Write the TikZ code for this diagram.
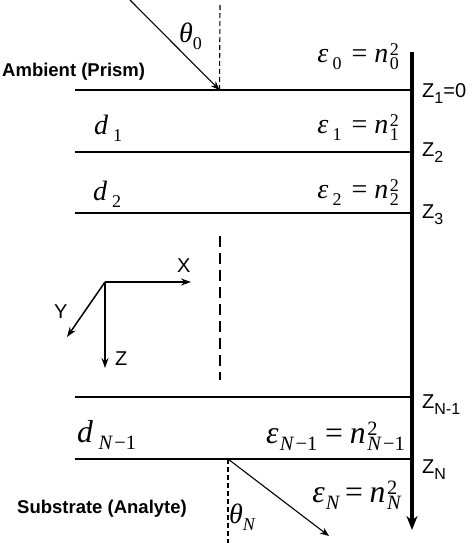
\documentclass[tikz,border=0pt]{standalone}
\usepackage{fontspec}
\setmainfont{Liberation Sans}
\newfontfamily\tms{Liberation Serif}
\usetikzlibrary{arrows.meta}
\newcommand{\zsb}[1]{\raisebox{-6pt}{\fontsize{16}{16}\selectfont #1}}
\newcommand{\lsb}[1]{\raisebox{-7pt}{\fontsize{18}{18}\selectfont #1}}
\newcommand{\lsp}[1]{\raisebox{7pt}{\fontsize{18}{18}\selectfont #1}}
\newcommand{\stk}[2]{\hspace{1.5pt}\rlap{\lsp{#1}}\lsb{#2}}
\newcommand{\ep}{{\itshape ε}}
\newcommand{\Nm}{{\itshape N}\hspace{2pt}−1}
\tikzset{
  layer/.style={line width=1.5pt},
  ray/.style={line width=1.1pt,-{Stealth[length=9pt,width=7pt]}},
  thinDash/.style={line width=1.1pt,dash pattern=on 5pt off 3pt},
  midDash/.style={line width=2.8pt,dash pattern=on 11pt off 6pt},
  zaxis/.style={line width=3.2pt,-{Stealth[length=14pt,width=11pt]}},
  cframe/.style={line width=1.5pt,-{Stealth[length=10pt,width=7pt]}},
  mlab/.style={inner sep=0pt,font=\tms\fontsize{28}{30}\selectfont},
  zlab/.style={inner sep=0pt,anchor=base west,font=\fontsize{20}{22}\selectfont},
  blab/.style={inner sep=0pt,anchor=base west,font=\bfseries\fontsize{18.5}{20}\selectfont},
}
\begin{document}
\begin{tikzpicture}[x=1pt,y=-1pt]
\useasboundingbox (0,0) rectangle (474,543);
% layer lines
\foreach \n/\y in {a/90,b/152,c/213,d/397,e/459}{
  \coordinate (L\n) at (75,\y);
  \coordinate (R\n) at (412,\y);
  \draw[layer] (L\n) -- (R\n);
}
% vertical z axis
\coordinate (ztop) at (412,52);
\coordinate (zbot) at (412,530);
\draw[zaxis] (ztop) -- (zbot);
% incident ray
\coordinate (inS) at (130,0);
\coordinate (inE) at (219.5,90);
\coordinate (nTop) at (220,5);
\draw[thinDash] (nTop) -- (inE);
\draw[ray] (inS) -- (inE);
% refracted ray
\coordinate (outS) at (228,459);
\coordinate (outE) at (329,536);
\coordinate (nBot) at (228,543);
\draw[thinDash] (outS) -- (nBot);
\draw[ray] (outS) -- (outE);
% middle dashed
\coordinate (mdT) at (220,236);
\coordinate (mdB) at (220,380);
\draw[midDash] (mdT) -- (mdB);
% coordinate frame
\coordinate (O) at (105,282);
\coordinate (OX) at (191,282);
\coordinate (OY) at (67,337);
\coordinate (OZ) at (105,368);
\draw[cframe] (O) -- (OX);
\draw[cframe] (O) -- (OY);
\draw[cframe] (O) -- (OZ);
\node[zlab] (xl) at (177,272) {X};
\node[zlab] (yl) at (54,318) {Y};
\node[zlab] (zl) at (115,365) {Z};
% angle labels
\node[mlab,anchor=base west] (t0) at (179,43) {{\itshape θ}\lsb{0}};
\node[mlab,anchor=base west] (tN) at (229,523) {{\itshape θ}\lsb{\itshape N}};
% epsilon labels
\node[mlab,anchor=base east] (e0) at (399,63) {\ep\hspace{4pt}\lsb{0}\hspace{10pt}=\hspace{7pt}{\itshape n}\stk{2}{0}};
\node[mlab,anchor=base east] (e1) at (399,133) {\ep\hspace{4pt}\lsb{1}\hspace{10pt}=\hspace{7pt}{\itshape n}\stk{2}{1}};
\node[mlab,anchor=base east] (e2) at (399,198) {\ep\hspace{4pt}\lsb{2}\hspace{10pt}=\hspace{7pt}{\itshape n}\stk{2}{2}};
\node[mlab,anchor=base east] (eN1) at (405,443) {\scalebox{1.13}{\ep\hspace{1pt}\lsb{\Nm}\hspace{7pt}=\hspace{6pt}{\itshape n}\stk{2}{\Nm}}};
\node[mlab,anchor=base east] (eN) at (401,502) {\scalebox{1.13}{\ep\hspace{1pt}\lsb{\itshape N}\hspace{5pt}=\hspace{6pt}{\itshape n}\stk{2}{\itshape N}}};
% thickness labels
\node[mlab,anchor=base west] (d1) at (94,134) {{\itshape d}\hspace{5pt}\lsb{1}};
\node[mlab,anchor=base west] (d2) at (93,200) {{\itshape d}\hspace{5pt}\lsb{2}};
\node[mlab,anchor=base west] (dN1) at (77,442) {\scalebox{1.13}{{\itshape d}\hspace{5pt}\lsb{\Nm}}};
% z labels
\node[zlab] (z1) at (422,97) {Z\zsb{1}=0};
\node[zlab] (z2) at (422,156) {Z\zsb{2}};
\node[zlab] (z3) at (422,218) {Z\zsb{3}};
\node[zlab] (zN1) at (422,408) {Z\zsb{N-1}};
\node[zlab] (zN) at (422,473) {Z\zsb{N}};
% media labels
\node[blab] (amb) at (2,76) {Ambient (Prism)};
\node[blab] (sub) at (17,513) {Substrate (Analyte)};
\end{tikzpicture}
\end{document}
